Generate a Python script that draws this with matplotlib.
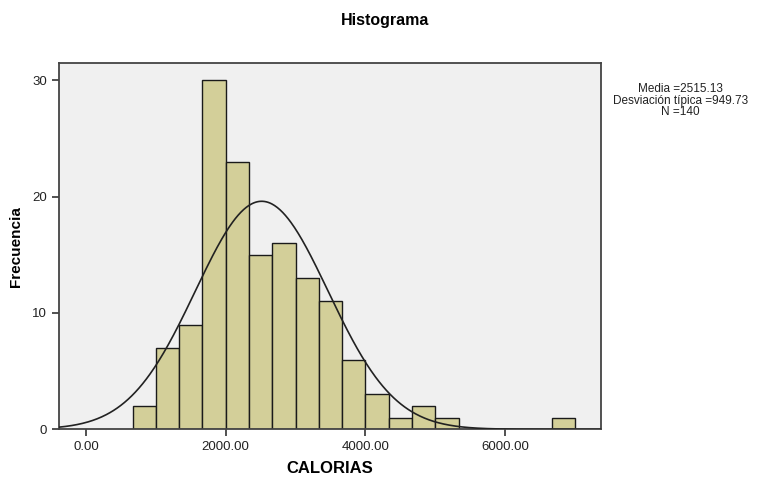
import numpy as np
import matplotlib.pyplot as plt

plt.rcParams['font.family'] = ['Liberation Sans', 'DejaVu Sans']

# histogram bins (width 2000/6)
bin_left = [666.67, 1000.0, 1333.33, 1666.67, 2000.0, 2333.33, 2666.67, 3000.0,
            3333.33, 3666.67, 4000.0, 4333.33, 4666.67, 5000.0, 6666.67]
counts = [2, 7, 9, 30, 23, 15, 16, 13, 11, 6, 3, 1, 2, 1, 1]
bin_width = 2000.0 / 6

media = 2515.13
desv = 949.73
n = 140

xticks = [0, 2000, 4000, 6000]
yticks = [0, 10, 20, 30]

fig = plt.figure(figsize=(7.79, 4.8), dpi=100)
ax = fig.add_axes([0.0757, 0.1056, 0.6958, 0.7634])
ax.set_facecolor('#f0f0f0')

ax.bar(bin_left, counts, width=bin_width, align='edge', color='#d3cf99',
       edgecolor='#1a1a1a', linewidth=1.0, zorder=2)

# normal curve scaled to counts
xs = np.linspace(-400, 7400, 600)
ys = n * bin_width / (desv * np.sqrt(2 * np.pi)) * np.exp(-0.5 * ((xs - media) / desv) ** 2)
ax.plot(xs, ys, color='#222222', linewidth=1.2, zorder=3)

ax.set_xlim(-387, 7373)
ax.set_ylim(0, 31.5)
ax.set_xticks(xticks)
ax.set_xticklabels([f"{v:.2f}" for v in xticks], fontsize=9.5, color='#222222')
ax.set_yticks(yticks)
ax.set_yticklabels([str(v) for v in yticks], fontsize=9.5, color='#222222')
ax.tick_params(direction='out', length=5, width=1.2, color='#333333')
for s in ax.spines.values():
    s.set_color('#444444')
    s.set_linewidth(1.3)

ax.set_xlabel('CALORIAS', fontsize=12, fontweight='bold', labelpad=6)
ax.set_ylabel('Frecuencia', fontsize=11, fontweight='bold', labelpad=7)

fig.text(0.494, 0.958, 'Histograma', ha='center', va='center', fontsize=11.5, fontweight='bold')
fig.text(0.873, 0.79, f"Media ={media:.2f}\nDesviación típica ={desv:.2f}\nN ={n}",
         ha='center', va='center', fontsize=8.5, linespacing=0.95, color='#222222')

fig.savefig('out.png', dpi=100)
